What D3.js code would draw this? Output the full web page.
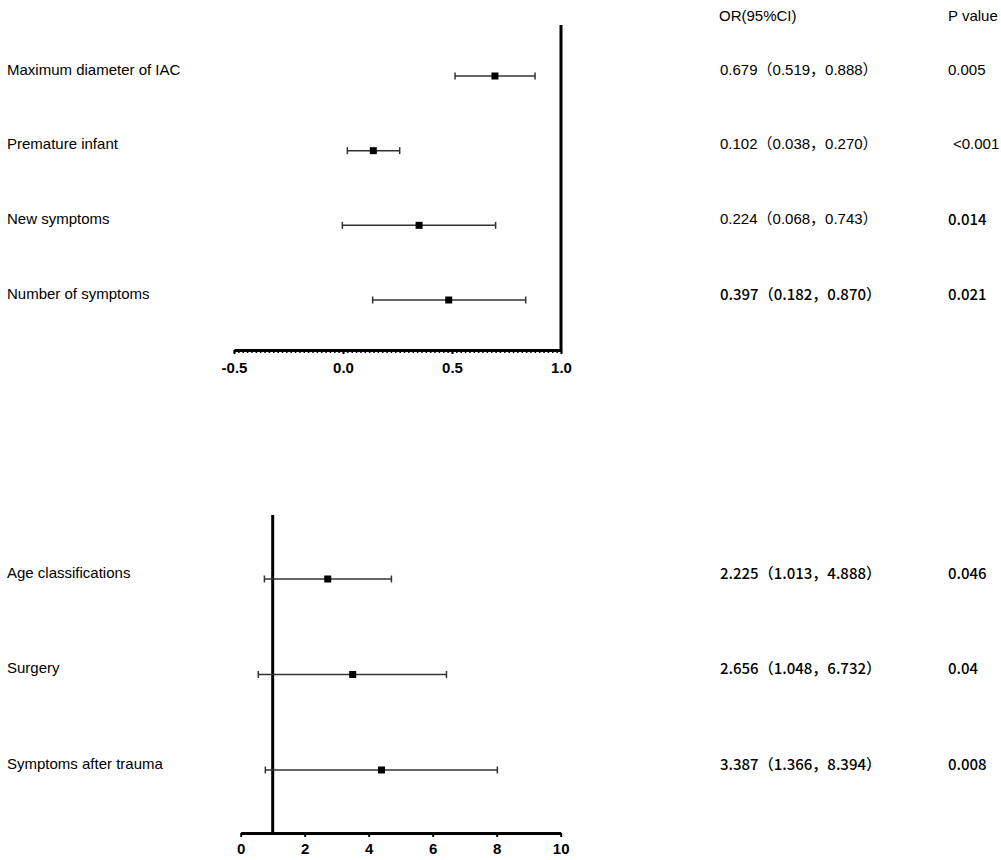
<!DOCTYPE html>
<html>
<head>
<meta charset="UTF-8">
<title>Forest plot</title>
<script src="https://d3js.org/d3.v7.min.js"></script>
<style>
  body { margin: 0; background: #fff; }
  text { fill: #000; }
</style>
</head>
<body>
<div id="chart"></div>
<script>

// top panel (OR < 1)
var topLabels = ["Maximum diameter of IAC", "Premature infant", "New symptoms", "Number of symptoms"];
var topMid  = [0.697, 0.139, 0.349, 0.485];
var topLow  = [0.514, 0.020, -0.003, 0.136];
var topHigh = [0.881, 0.260, 0.700, 0.838];
var topOR   = ["0.679（0.519，0.888）", "0.102（0.038，0.270）", "0.224（0.068，0.743）", "0.397（0.182，0.870）"];
var topP    = ["0.005", "<0.001", "0.014", "0.021"];
var topTicks = [-0.5, 0.0, 0.5, 1.0];

// bottom panel (OR > 1)
var botLabels = ["Age classifications", "Surgery", "Symptoms after trauma"];
var botMid  = [2.72, 3.50, 4.40];
var botLow  = [0.74, 0.55, 0.77];
var botHigh = [4.71, 6.43, 8.02];
var botOR   = ["2.225（1.013，4.888）", "2.656（1.048，6.732）", "3.387（1.366，8.394）"];
var botP    = ["0.046", "0.04", "0.008"];
var botTicks = [0, 2, 4, 6, 8, 10];

var W = 1001, H = 860;
var latin = "'Liberation Sans', Arial, 'Noto Sans CJK SC', sans-serif";
var cjk = "'Noto Sans CJK SC', 'Liberation Sans', sans-serif";

var svg = d3.select("#chart").append("svg")
    .attr("width", W)
    .attr("height", H);

function panel(opt) {
  var x = d3.scaleLinear().domain(opt.domain).range(opt.xRange);
  var y = d3.scalePoint().domain(opt.labels).range(opt.yRange);
  var g = svg.append("g");

  // minor ticks
  if (opt.minor) {
    var minorAxis = d3.axisBottom(x)
      .tickValues(d3.range(opt.domain[0], opt.domain[1] + 1e-9, opt.minor))
      .tickSize(3)
      .tickFormat("");
    var mg = g.append("g")
      .attr("transform", "translate(0," + opt.axisY + ")")
      .call(minorAxis);
    mg.select(".domain").remove();
    mg.selectAll("line").attr("stroke", "#000").attr("stroke-width", 1.5);
  }

  var axis = d3.axisBottom(x)
    .tickValues(opt.ticks)
    .tickSize(4)
    .tickSizeOuter(0)
    .tickFormat(function(d) { return opt.format(d).replace("\u2212", "-"); });
  var ag = g.append("g")
    .attr("transform", "translate(0," + opt.axisY + ")")
    .call(axis);
  ag.select(".domain").attr("stroke", "#000").attr("stroke-width", 3);
  ag.selectAll(".tick line").attr("stroke", "#000").attr("stroke-width", 2);
  ag.selectAll(".tick text")
    .attr("y", opt.labelY)
    .attr("dy", "0.71em")
    .style("font-family", latin)
    .style("font-size", "15px")
    .style("font-weight", "bold")
    .attr("fill", "#000");

  // reference line at OR = 1
  g.append("line")
    .attr("x1", x(1)).attr("x2", x(1))
    .attr("y1", opt.refTop).attr("y2", opt.axisY)
    .attr("stroke", "#000")
    .attr("stroke-width", 3);

  var rows = g.selectAll(".row")
    .data(opt.labels)
    .enter().append("g")
    .attr("class", "row");

  rows.append("line")
    .attr("x1", function(d, i) { return x(opt.low[i]); })
    .attr("x2", function(d, i) { return x(opt.high[i]); })
    .attr("y1", function(d) { return y(d); })
    .attr("y2", function(d) { return y(d); })
    .attr("stroke", "#333")
    .attr("stroke-width", 1.5);

  [opt.low, opt.high].forEach(function(arr) {
    rows.append("line")
      .attr("x1", function(d, i) { return x(arr[i]); })
      .attr("x2", function(d, i) { return x(arr[i]); })
      .attr("y1", function(d) { return y(d) - 3.5; })
      .attr("y2", function(d) { return y(d) + 3.5; })
      .attr("stroke", "#333")
      .attr("stroke-width", 1.5);
  });

  rows.append("rect")
    .attr("x", function(d, i) { return x(opt.mid[i]) - 3.5; })
    .attr("y", function(d) { return y(d) - 3.5; })
    .attr("width", 7)
    .attr("height", 7)
    .attr("fill", "#000");

  rows.append("text")
    .attr("x", 7)
    .attr("y", function(d) { return y(d) - 7; })
    .attr("dominant-baseline", "central")
    .style("font-family", latin)
    .style("font-size", "15px")
    .text(function(d) { return d; });

  rows.append("text")
    .attr("x", 720)
    .attr("y", function(d) { return y(d) - 7; })
    .attr("dominant-baseline", "central")
    .style("font-family", function(d, i) { return opt.orFont(i); })
    .style("font-weight", function(d, i) { return opt.orFont(i) === cjk ? 500 : 400; })
    .style("font-size", "15px")
    .text(function(d, i) { return opt.or[i]; });

  rows.append("text")
    .attr("x", function(d, i) { return opt.p[i].charAt(0) === "<" ? 953 : 948; })
    .attr("y", function(d) { return y(d) - 7; })
    .attr("dominant-baseline", "central")
    .style("font-family", function(d, i) { return opt.pFont(i); })
    .style("font-weight", function(d, i) { return opt.pFont(i) === cjk ? 500 : 400; })
    .style("font-size", "15px")
    .text(function(d, i) { return opt.p[i]; });
}

panel({
  labels: topLabels, mid: topMid, low: topLow, high: topHigh, or: topOR, p: topP,
  domain: [-0.5, 1.0], xRange: [234, 561], yRange: [76, 300],
  ticks: topTicks, format: d3.format(".1f"), minor: 0.02,
  axisY: 350, labelY: 12.5, refTop: 25,
  orFont: function(i) { return i < 3 ? latin : cjk; },
  pFont: function(i) { return i < 2 ? latin : cjk; }
});

panel({
  labels: botLabels, mid: botMid, low: botLow, high: botHigh, or: botOR, p: botP,
  domain: [0, 10], xRange: [240.7, 560.7], yRange: [579, 770],
  ticks: botTicks, format: d3.format("d"), minor: null,
  axisY: 833, labelY: 10.5, refTop: 515,
  orFont: function() { return cjk; },
  pFont: function() { return cjk; }
});

// column headers
svg.append("text")
  .attr("x", 719).attr("y", 15)
  .attr("dominant-baseline", "central")
  .style("font-family", latin).style("font-size", "15px")
  .text("OR(95%CI)");
svg.append("text")
  .attr("x", 948).attr("y", 15)
  .attr("dominant-baseline", "central")
  .style("font-family", latin).style("font-size", "15px")
  .text("P value");

</script>
</body>
</html>
